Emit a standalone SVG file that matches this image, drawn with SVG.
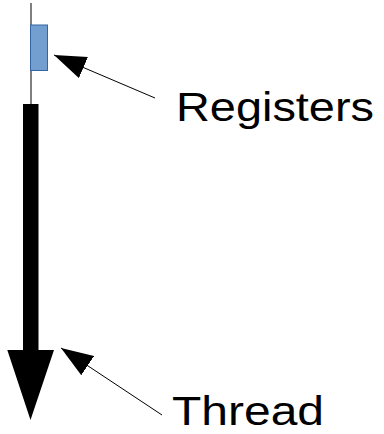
<svg xmlns="http://www.w3.org/2000/svg" width="384" height="434" viewBox="0 0 384 434">
  <style>
    .label { font-family: "Liberation Sans", Arial, sans-serif; font-size: 40px; fill: #000000; }
    .pointer { stroke: #000000; stroke-width: 1; fill: none; marker-end: url(#head); }
    .track { stroke: #000000; stroke-width: 1; }
  </style>
  <defs>
    <marker id="head" markerUnits="userSpaceOnUse" markerWidth="34" markerHeight="24" refX="32" refY="11.5" orient="auto">
      <path d="M0,0 L32,11.5 L0,23 Z" fill="#000000"/>
    </marker>
  </defs>

  <!-- execution track with register block -->
  <g id="track">
    <line class="track" x1="31" y1="3" x2="31" y2="106"/>
  </g>
  <g id="registers-block">
    <rect x="30.5" y="25" width="17" height="45.5" fill="#729fcf" stroke="#3465a4" stroke-width="1"/>
  </g>

  <!-- thread shown as a thick downward arrow -->
  <g id="thread-arrow">
    <polygon points="23,104 38.5,104 38.5,350 54,350 30.5,420 7.3,350 23,350" fill="#000000"/>
  </g>

  <!-- callout pointers -->
  <g id="connectors">
    <line class="pointer" x1="155" y1="98" x2="54" y2="55"/>
    <line class="pointer" x1="162" y1="415" x2="61" y2="348"/>
  </g>

  <g id="label-registers">
    <text class="label" x="176" y="121" textLength="198" lengthAdjust="spacingAndGlyphs">Registers</text>
  </g>
  <g id="label-thread">
    <text class="label" x="172" y="425" font-size="41" textLength="152" lengthAdjust="spacingAndGlyphs">Thread</text>
  </g>
</svg>
